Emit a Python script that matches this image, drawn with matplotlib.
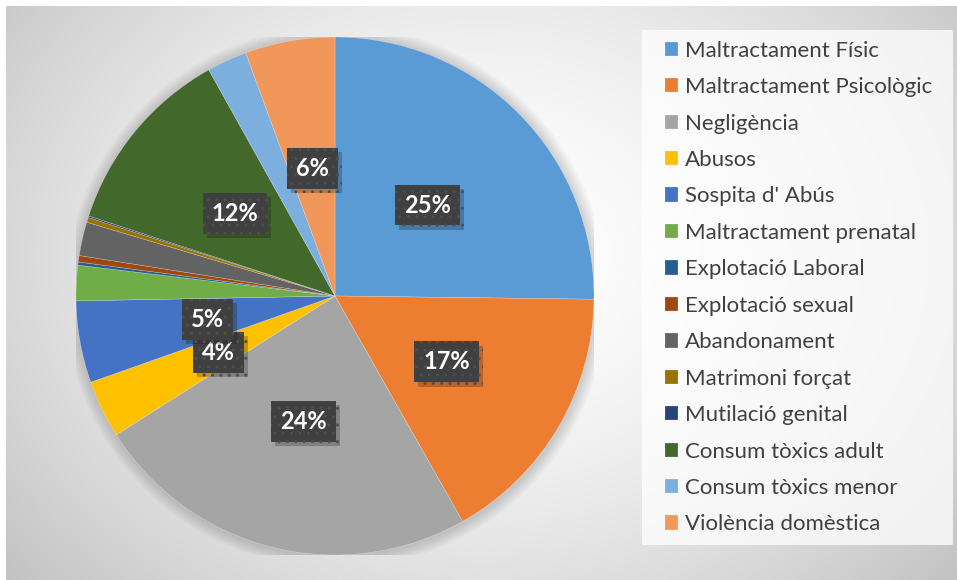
import numpy as np
import matplotlib
matplotlib.use("Agg")
import matplotlib.pyplot as plt
from matplotlib.patches import Circle, Rectangle
import matplotlib.patheffects as pe

# categories and shares (%), clockwise from 12 o'clock
categories = ["Maltractament Físic", "Maltractament Psicològic", "Negligència", "Abusos",
              "Sospita d' Abús", "Maltractament prenatal", "Explotació Laboral",
              "Explotació sexual", "Abandonament", "Matrimoni forçat", "Mutilació genital",
              "Consum tòxics adult", "Consum tòxics menor", "Violència domèstica"]
values = [25.2, 16.6, 24.2, 3.6, 5.1, 2.2, 0.2, 0.4, 2.1, 0.3, 0.1, 11.9, 2.5, 5.6]
colors = ["#5B9BD5", "#ED7D31", "#A5A5A5", "#FFC000", "#4472C4", "#70AD47", "#255E91",
          "#9E480E", "#636363", "#997300", "#264478", "#43682B", "#7CAFDD", "#F1975A"]

W, H = 957, 580
fig = plt.figure(figsize=(W / 100, H / 100), dpi=100)
fig.patch.set_facecolor("white")

# radial gradient background
bg = fig.add_axes([6 / W, 0, (W - 6) / W, (H - 6) / H])
bg.set_axis_off()
yy, xx = np.mgrid[0:300, 0:500]
cx, cy = 250, 130
r = np.sqrt(((xx - cx) / 330.0) ** 2 + ((yy - cy) / 260.0) ** 2)
g = np.clip(1.0 - 0.24 * r ** 1.6, 0.76, 1.0)
bg.imshow(g, cmap="gray", vmin=0, vmax=1, aspect="auto", interpolation="bicubic")

# legend panel
fig.add_artist(Rectangle((642 / W, 1 - 545 / H), (953 - 642) / W, (545 - 30) / H,
                         transform=fig.transFigure, facecolor="white", alpha=0.75,
                         linewidth=0))

# pie
cxp, cyp, rad = 335, 296, 259
ax = fig.add_axes([(cxp - rad) / W, (H - cyp - rad) / H, 2 * rad / W, 2 * rad / H])
ax.set_axis_off()

# soft shadow
for i in range(8):
    ax.add_patch(Circle((0.004, -0.004), 1.0 + 0.006 * (i + 1), color="black",
                        alpha=0.018, lw=0, zorder=0))

wedges, texts, autotexts = ax.pie(
    values, colors=colors, startangle=90, counterclock=False, radius=1.0,
    autopct=lambda p: "%.0f%%" % p if p >= 3 else "", pctdistance=0.5,
    wedgeprops=dict(linewidth=0.3, edgecolor="#ffffff80"))
ax.set_xlim(-1, 1)
ax.set_ylim(-1, 1)
ax.set_aspect("equal")

for t in autotexts:
    if not t.get_text():
        continue
    t.set_fontfamily("Lato")
    t.set_fontweight("bold")
    t.set_fontsize(17)
    t.set_color("white")
    t.set_bbox(dict(boxstyle="square,pad=0.38", facecolor="#404040",
                    edgecolor="#4e4e4e", hatch="..", linewidth=0))
    t.get_bbox_patch().set_path_effects(
        [pe.SimplePatchShadow(offset=(3, -3), alpha=0.25), pe.Normal()])

leg = fig.legend(wedges, categories, loc="upper left",
                 bbox_to_anchor=(658 / W, 1 - 34 / H), frameon=False,
                 prop={"family": "Lato", "size": 16}, labelcolor="#404040",
                 handlelength=0.62, handleheight=0.62, handletextpad=0.3,
                 labelspacing=0.74, borderpad=0.3, borderaxespad=0)

fig.savefig("out.png", dpi=100)
